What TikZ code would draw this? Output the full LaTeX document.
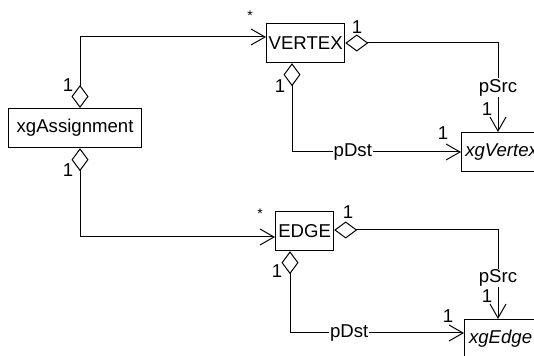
\documentclass[tikz,border=0pt]{standalone}
\usepackage{fontspec}
\setmainfont{Liberation Sans}
\usepackage{tikz}
\usetikzlibrary{positioning, calc, arrows.meta}

\begin{document}
\begin{tikzpicture}[
  x=0.5pt, y=-0.5pt,
  font=\fontsize{9.3}{11}\selectfont,
  cls/.style={draw, line width=0.6pt, minimum height=19.5pt, minimum width=#1,
    inner sep=1pt, anchor=north west, align=center},
  agg/.style={line width=0.5pt, {Diamond[open, length=11.5pt, width=8.5pt]}-{Straight Barb[length=7pt, width=8pt]}},
  role/.style={fill=white, inner sep=0.5pt},
  mult/.style={inner sep=0pt},
  star/.style={inner sep=0pt, font=\fontsize{7}{8}\selectfont},
]
  \useasboundingbox (0,0) rectangle (534,356);
  \clip (0,0) rectangle (534,356);

  % classes
  \node[cls=66.5pt] (asg) at (8,108) {xgAssignment};
  \node[cls=38pt] (vtx) at (266,23) {VERTEX};
  \node[cls=29pt] (edg) at (275,211) {EDGE};
  \node[cls=40pt, font=\fontsize{9.3}{11}\selectfont\itshape] (xvtx) at (461,132) {xgVertex};
  \node[cls=36pt, font=\fontsize{9.3}{11}\selectfont\itshape] (xedg) at (464,319) {xgEdge};

  % xgAssignment -> VERTEX / EDGE
  \draw[agg] (asg.north -| 80,0) |- (vtx.west |- 0,37);
  \node[mult] at (68,85) {1};
  \node[star] at (250,16) {*};
  \draw[agg] (asg.south -| 80,0) |- (edg.west |- 0,237);
  \node[mult] at (68,170) {1};
  \node[star] at (260,214) {*};

  % VERTEX -> xgVertex
  \draw[agg] (vtx.east |- 0,43) -| (xvtx.north -| 498,0)
    node[role, pos=0.75] {pSrc};
  \node[mult] at (357,27) {1};
  \node[mult] at (487,109) {1};
  \draw[agg] (vtx.south -| 292,0) |- (xvtx.west |- 0,152)
    node[role, pos=0.68] {pDst};
  \node[mult] at (280,86) {1};
  \node[mult] at (443,133) {1};

  % EDGE -> xgEdge
  \draw[agg] (edg.east |- 0,230) -| (xedg.north -| 498,0)
    node[role, pos=0.77] {pSrc};
  \node[mult] at (348,212) {1};
  \node[mult] at (487,296) {1};
  \draw[agg] (edg.south -| 290,0) |- (xedg.west |- 0,333)
    node[role, pos=0.67] {pDst};
  \node[mult] at (277,271) {1};
  \node[mult] at (448,316) {1};
\end{tikzpicture}
\end{document}
